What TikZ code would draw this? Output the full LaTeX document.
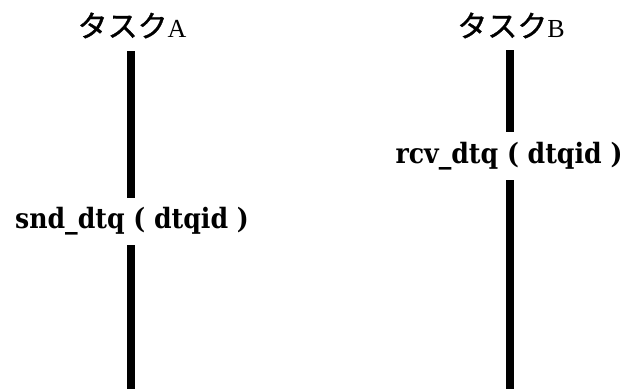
\documentclass[tikz,border=0pt]{standalone}
\usepackage{fontspec}
\setmainfont{DejaVu Serif}
\newfontfamily\jafont[FakeBold=1.2]{Noto Sans CJK JP}
\newfontfamily\titlefont{Liberation Serif}
\newfontfamily\callfont[FakeStretch=0.9]{DejaVu Serif}
\begin{document}
\begin{tikzpicture}[x=1pt,y=-1pt,
    life/.style={line width=8pt},
    tasklabel/.style={anchor=base,inner sep=0pt,font=\titlefont\fontsize{26}{26}\selectfont},
    call/.style={inner sep=0pt,minimum height=47pt,font=\callfont\bfseries\fontsize{28}{28}\selectfont}]
        \useasboundingbox (0,0) rectangle (624,389);
        \node[tasklabel] (ta) at (132,37) {{\jafont\fontsize{30}{30}\selectfont タスク}A};
        \node[tasklabel] (tb) at (511,37) {{\jafont\fontsize{30}{30}\selectfont タスク}B};
        \coordinate (a0) at (131,51);
        \coordinate (a1) at (131,389);
        \coordinate (b0) at (510,50);
        \coordinate (b1) at (510,389);
        \node[call] (snd) at (132,221.5) {snd\_dtq ( dtqid )};
        \node[call,minimum height=48pt] (rcv) at (509,156) {rcv\_dtq ( dtqid )};
        \draw[life](a0)--(a0 |- snd.north);
        \draw[life](a0 |- snd.south)--(a1);
        \draw[life](b0)--(b0 |- rcv.north);
        \draw[life](b0 |- rcv.south)--(b1);
      \end{tikzpicture}
\end{document}
